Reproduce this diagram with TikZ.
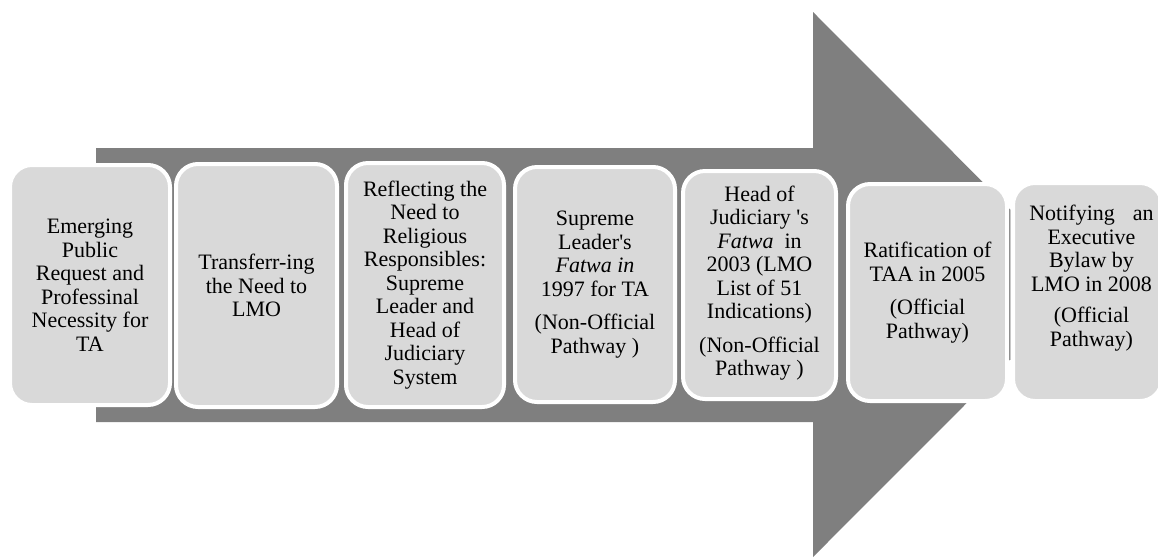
\documentclass[tikz,border=0pt]{standalone}
\usepackage{fontspec}
\setmainfont{Liberation Serif}
\definecolor{arrowgray}{HTML}{7F7F7F}
\definecolor{boxgray}{HTML}{D9D9D9}
\definecolor{faintline}{HTML}{C8C8C8}
\begin{document}
\begin{tikzpicture}[x=1pt,y=-1pt,
  stepbox/.style={draw=white, line width=4pt, fill=boxgray, rounded corners=22pt,
    inner sep=0pt, anchor=center},
  steptext/.style={align=center, inner sep=0pt, anchor=center,
    font=\fontsize{22}{23.5}\selectfont}]
\useasboundingbox (0,0) rectangle (1158,558);
\clip (0,0) rectangle (1158,558);
% big arrow
\fill[arrowgray] (96,148) -- (813,148) -- (813,12) -- (1085,284.5) -- (813,557) -- (813,422) -- (96,422) -- cycle;
% boxes
\node[stepbox, minimum width=160pt, minimum height=240pt] (b1) at (90,285) {};
\node[stepbox, minimum width=161pt, minimum height=243pt] (b2) at (256.5,285.5) {};
\node[stepbox, minimum width=158pt, minimum height=244pt] (b3) at (425,285) {};
\node[stepbox, minimum width=160pt, minimum height=235pt] (b4) at (595,284.5) {};
\node[stepbox, minimum width=153pt, minimum height=228pt] (b5) at (759.5,285) {};
\node[stepbox, minimum width=159pt, minimum height=217pt] (b6) at (927.5,292.5) {};
\node[stepbox, minimum width=149pt, minimum height=218pt] (b7) at (1087.5,292) {};
% faint separator
\coordinate (s1) at (1010,210);
\coordinate (s2) at (1010,360);
\draw[faintline, line width=0.8pt] (s1) -- (s2);
% texts
\node[steptext] (t1) at (b1.center) {Emerging\\Public\\Request and\\Professinal\\Necessity for\\TA};
\node[steptext] (t2) at (b2.center) {Transferr-ing\\the Need to\\LMO};
\node[steptext] (t3) at (b3.center) {Reflecting the\\Need to\\Religious\\Responsibles:\\Supreme\\Leader and\\Head of\\Judiciary\\System};
\node[steptext] (t4) at (b4.center) {Supreme\\Leader\textquotesingle s\\\textit{Fatwa in}\\1997 for TA\\[10pt](Non-Official\\Pathway )};
\node[steptext] (t5) at ([yshift=2pt]b5.center) {Head of\\Judiciary \textquotesingle s\\\textit{Fatwa}\ \ in\\2003 (LMO\\List of 51\\Indications)\\[10pt](Non-Official\\Pathway )};
\node[steptext] (t6) at (b6.center) {Ratification of\\TAA in 2005\\[10pt](Official\\Pathway)};
\node[steptext] (t7) at ([xshift=4pt,yshift=14pt]b7.center) {Notifying\hspace{18pt}an\\Executive\\Bylaw by\\LMO in 2008\\[8pt](Official\\Pathway)};
\end{tikzpicture}
\end{document}
